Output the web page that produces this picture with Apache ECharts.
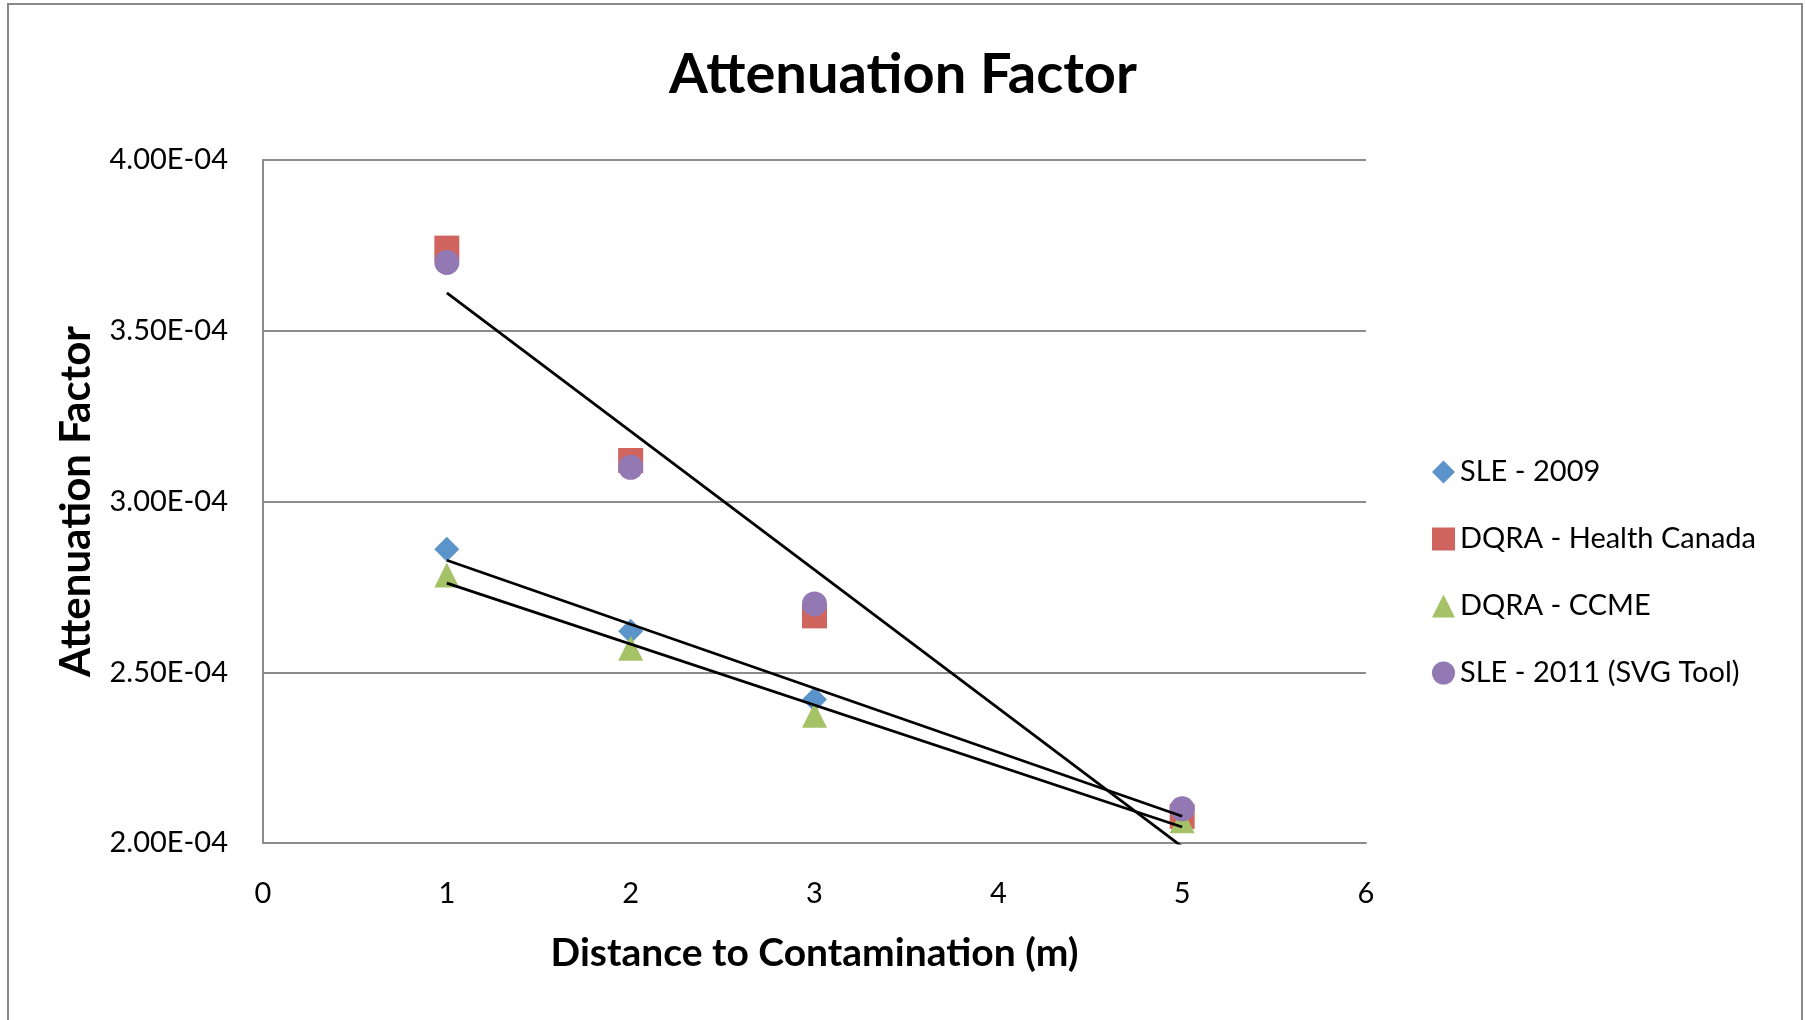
<!DOCTYPE html>
<html>
<head>
<meta charset="utf-8">
<script src="https://cdn.jsdelivr.net/npm/echarts@6/dist/echarts.min.js"></script>
<style>
html,body{margin:0;padding:0;background:#fff;}
#chart{width:1806px;height:1020px;}
</style>
</head>
<body>
<div id="chart"></div>
<script>
// ---- data ----
var distances = [1, 2, 3, 5];
var seriesNames = ['SLE - 2009', 'DQRA - Health Canada', 'DQRA - CCME', 'SLE - 2011 (SVG Tool)'];
var sle2009 = [2.86e-4, 2.62e-4, 2.42e-4, 2.10e-4];
var dqraHealthCanada = [3.742e-4, 3.12e-4, 2.665e-4, 2.078e-4];
var dqraCCME = [2.785e-4, 2.57e-4, 2.374e-4, 2.065e-4];
var sle2011 = [3.70e-4, 3.10e-4, 2.70e-4, 2.10e-4];
var trendSeries = [sle2009, dqraHealthCanada, dqraCCME];
var xTicks = [0, 1, 2, 3, 4, 5, 6];
var yTicks = [2.0e-4, 2.5e-4, 3.0e-4, 3.5e-4, 4.0e-4];

var colors = ['#5B93CB', '#CF655E', '#A5C266', '#9279B4'];
var symbols = ['diamond', 'rect', 'triangle', 'circle'];
var allValues = [sle2009, dqraHealthCanada, dqraCCME, sle2011];

function pairs(xs, ys) { return xs.map(function (x, i) { return [x, ys[i]]; }); }

function regression(xs, ys) {
  var n = xs.length, mx = 0, my = 0;
  for (var i = 0; i < n; i++) { mx += xs[i]; my += ys[i]; }
  mx /= n; my /= n;
  var sxy = 0, sxx = 0;
  for (var j = 0; j < n; j++) { sxy += (xs[j] - mx) * (ys[j] - my); sxx += (xs[j] - mx) * (xs[j] - mx); }
  var b = sxy / sxx, a = my - b * mx;
  var x0 = xs[0], x1 = xs[n - 1];
  return [[x0, a + b * x0], [x1, a + b * x1]];
}

function fmtE(v) {
  var s = v.toExponential(2).toUpperCase();
  var parts = s.split('E');
  var exp = parseInt(parts[1], 10);
  var sign = exp < 0 ? '-' : '+';
  var a = Math.abs(exp);
  return parts[0] + 'E' + sign + (a < 10 ? '0' + a : '' + a);
}

var FONT = 'Lato';
var series = [];
allValues.forEach(function (vals, i) {
  series.push({
    name: seriesNames[i],
    type: 'scatter',
    data: pairs(distances, vals),
    symbol: symbols[i],
    symbolSize: 25,
    itemStyle: { color: colors[i], opacity: 1 },
    z: 2 + i
  });
});
trendSeries.forEach(function (vals) {
  series.push({
    type: 'line',
    data: regression(distances, vals),
    symbol: 'none',
    silent: true,
    lineStyle: { color: '#000', width: 2.8 },
    z: 10
  });
});

var chart = echarts.init(document.getElementById('chart'));
chart.setOption({
  animation: false,
  backgroundColor: '#fff',
  title: {
    text: 'Attenuation Factor',
    left: 'center',
    top: 42,
    textStyle: { fontFamily: FONT, fontWeight: 'bold', fontSize: 56, color: '#000' }
  },
  legend: {
    data: seriesNames,
    orient: 'vertical',
    left: 1427,
    top: 452,
    itemWidth: 23,
    itemHeight: 23,
    itemGap: 37,
    itemTextGap: 8,
    textStyle: { fontFamily: FONT, fontSize: 29, color: '#000', lineHeight: 30 }
  },
  grid: { left: 263, right: 440, top: 160, bottom: 177, containLabel: false },
  xAxis: {
    type: 'value',
    min: xTicks[0],
    max: xTicks[xTicks.length - 1],
    interval: 1,
    name: 'Distance to Contamination (m)',
    nameLocation: 'middle',
    nameGap: 110,
    nameTextStyle: { fontFamily: FONT, fontWeight: 'bold', fontSize: 39, color: '#000', verticalAlign: 'middle' },
    axisLine: { show: true, lineStyle: { color: '#8C8C8C', width: 2 } },
    axisTick: { show: false },
    splitLine: { show: false },
    axisLabel: { fontFamily: FONT, fontSize: 29, color: '#000', margin: 36 }
  },
  yAxis: {
    type: 'value',
    min: yTicks[0],
    max: yTicks[yTicks.length - 1],
    interval: 0.5e-4,
    name: 'Attenuation Factor',
    nameLocation: 'middle',
    nameGap: 187,
    nameRotate: 90,
    nameTextStyle: { fontFamily: FONT, fontWeight: 'bold', fontSize: 42, color: '#000', verticalAlign: 'middle' },
    axisLine: { show: true, lineStyle: { color: '#8C8C8C', width: 2 } },
    axisTick: { show: false },
    splitLine: { show: true, lineStyle: { color: '#8C8C8C', width: 2 } },
    axisLabel: { fontFamily: FONT, fontSize: 29, color: '#000', margin: 35, formatter: fmtE }
  },
  graphic: [{
    type: 'rect',
    shape: { x: 8, y: 4, width: 1794, height: 1040 },
    style: { fill: 'none', stroke: '#888', lineWidth: 2 },
    silent: true,
    z: 100
  }],
  series: series
});
</script>
</body>
</html>
